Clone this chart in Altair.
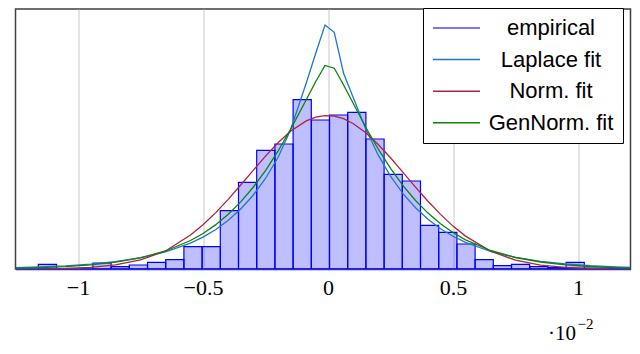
import altair as alt
import pandas as pd

# ---- histogram (x in units of 1e-2) ----
bin_edges = [-1.1588, -1.086, -1.0132, -0.9404, -0.8676, -0.7948, -0.722, -0.6492,
             -0.5764, -0.5036, -0.4308, -0.358, -0.2852, -0.2124, -0.1396, -0.0668,
             0.006, 0.0788, 0.1516, 0.2244, 0.2972, 0.37, 0.4428, 0.5156, 0.5884,
             0.6612, 0.734, 0.8068, 0.8796, 0.9524, 1.0252, 1.098, 1.1708, 1.2436]
bin_density = [4.7, 0, 0, 6.0, 2.3, 4.0, 6.7, 9.3, 22.3, 22.3, 58.3, 86.7, 118.7, 125.0,
               169.3, 149.0, 154.0, 156.7, 130.0, 94.7, 88.0, 43.7, 36.7, 25.0, 9.3,
               3.3, 4.7, 2.3, 1.3, 6.7, 1.0, 1.0, 0.7]

# ---- fitted densities ----
curve_x = [-1.25, -1.15, -1.05, -0.95, -0.85, -0.75, -0.65, -0.55, -0.5, -0.45, -0.4,
           -0.35, -0.3, -0.25, -0.2, -0.15, -0.087, -0.049, -0.012, 0.025, 0.062, 0.1,
           0.15, 0.2, 0.25, 0.3, 0.35, 0.4, 0.45, 0.5, 0.55, 0.65, 0.75, 0.85, 0.95,
           1.05, 1.15, 1.245]
laplace_fit = [1.4, 2.1, 3.2, 4.9, 7.4, 11.3, 17.1, 25.9, 31.9, 39.3, 48.4, 59.7, 73.5,
               90.5, 111.5, 139.0, 186.0, 215.7, 244.0, 236.7, 196.0, 172.0, 140.8, 114.3,
               92.8, 75.3, 61.2, 49.7, 40.3, 32.7, 26.6, 17.5, 11.6, 7.6, 5.0, 3.3, 2.2, 1.4]
norm_fit = [0.1, 0.2, 0.6, 1.7, 4.1, 9.2, 18.0, 34.0, 44.2, 56.1, 69.4, 83.7, 98.4, 112.9,
            126.2, 137.7, 148.1, 151.9, 153.4, 152.9, 150.3, 145.5, 136.5, 124.7, 111.2,
            96.7, 81.9, 67.7, 54.6, 42.9, 32.9, 17.9, 8.8, 3.9, 1.6, 0.6, 0.2, 0.1]
gennorm_fit = [0.8, 1.4, 2.4, 4.1, 6.8, 11.1, 18.0, 28.5, 35.5, 44.1, 54.5, 66.9, 81.5,
               98.4, 117.8, 139.6, 169.3, 187.5, 203.5, 200.8, 184.2, 166.0, 142.3, 120.3,
               100.6, 83.3, 68.5, 55.9, 45.3, 36.5, 29.2, 18.5, 11.5, 7.0, 4.2, 2.5, 1.4, 0.8]

series_names = ["empirical", "Laplace fit", "Norm. fit", "GenNorm. fit"]
series_colors = ["#4848ff", "#1f78c8", "#b2213f", "#0a840a"]
tick_values = [-1, -0.5, 0, 0.5, 1]
exponent_text = ["\u22122"]

hist_df = pd.DataFrame({"x": bin_edges[:-1], "x2": bin_edges[1:], "y": bin_density})
curves_df = pd.concat([
    pd.DataFrame({"x": curve_x, "y": laplace_fit, "series": "Laplace fit"}),
    pd.DataFrame({"x": curve_x, "y": norm_fit, "series": "Norm. fit"}),
    pd.DataFrame({"x": curve_x, "y": gennorm_fit, "series": "GenNorm. fit"}),
])

X = alt.X("x:Q",
          scale=alt.Scale(domain=[-1.25, 1.21], nice=False, zero=False),
          axis=alt.Axis(values=tick_values, grid=True, gridColor="#c8c8c8", gridWidth=1,
                        ticks=False, domain=True, domainColor="#2a2ae0", domainWidth=1.5,
                        labelFont="Liberation Serif", labelFontSize=22, labelColor="black",
                        labelPadding=8, labelFlush=False,
                        labelExpr="replace(format(datum.value, '~g'), '-', '\u2212')",
                        title="\u00b710", titleFont="Liberation Serif",
                        titleFontSize=21, titleFontWeight="normal", titleColor="black",
                        titleAlign="right", titleBaseline="alphabetic",
                        titleX=560, titleY=70))
Y = alt.Y("y:Q", scale=alt.Scale(domain=[0, 260], nice=False), axis=None)

bars = alt.Chart(hist_df).mark_bar(
    fill="#0000ff", fillOpacity=0.25, stroke="#0000ff", strokeWidth=1.2, clip=True
).encode(x=X, x2="x2:Q", y=Y, y2=alt.datum(0))

lines = alt.Chart(curves_df).mark_line(strokeWidth=1.3, clip=True).encode(
    x=X, y=Y,
    color=alt.Color("series:N",
                    scale=alt.Scale(domain=series_names, range=series_colors),
                    legend=alt.Legend(orient="none", legendX=407.5, legendY=-1, title=None,
                                      symbolType="stroke", symbolSize=2209,
                                      symbolStrokeWidth=1.5, labelFont="Liberation Sans",
                                      labelFontSize=22, labelColor="black",
                                      labelAlign="center", labelOffset=70,
                                      clipHeight=22, padding=9, rowPadding=9.6,
                                      strokeColor="black", fillColor="white",
                                      cornerRadius=0)),
)

exponent = alt.Chart(pd.DataFrame({"t": exponent_text})).mark_text(
    font="Liberation Serif", fontSize=15, color="black", align="left", baseline="alphabetic"
).encode(text="t:N", x=alt.value(562), y=alt.value(320))

chart = (bars + lines + exponent).properties(
    width=615, height=260,
    autosize=alt.AutoSizeParams(type="none"),
    padding={"left": 7.5, "top": 1, "right": 1, "bottom": 76},
).configure_view(stroke="#404040", strokeWidth=1.5)

chart.save("out.html", embed_options={"renderer": "svg", "actions": False})
